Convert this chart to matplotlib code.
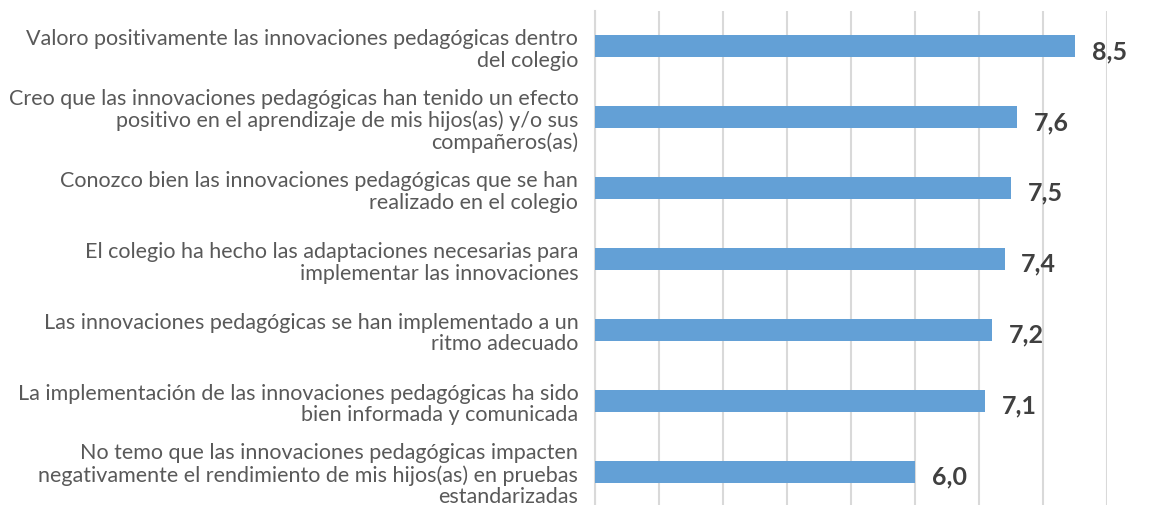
import matplotlib.pyplot as plt
import numpy as np

plt.rcParams['font.family'] = ['Lato', 'DejaVu Sans']

labels = [
    "Valoro positivamente las innovaciones pedagógicas dentro\ndel colegio",
    "Creo que las innovaciones pedagógicas han tenido un efecto\npositivo en el aprendizaje de mis hijos(as) y/o sus\ncompañeros(as)",
    "Conozco bien las innovaciones pedagógicas que se han\nrealizado en el colegio",
    "El colegio ha hecho las adaptaciones necesarias para\nimplementar las innovaciones",
    "Las innovaciones pedagógicas se han implementado a un\nritmo adecuado",
    "La implementación de las innovaciones pedagógicas ha sido\nbien informada y comunicada",
    "No temo que las innovaciones pedagógicas impacten\nnegativamente el rendimiento de mis hijos(as) en pruebas\nestandarizadas",
]
values = [8.5, 7.6, 7.5, 7.4, 7.2, 7.1, 6.0]

fig = plt.figure(figsize=(11.61, 5.06), dpi=100)
ax = fig.add_axes([595 / 1161, -2 / 506, (1107 - 595) / 1161, 496 / 506])

y = np.arange(len(values))
ax.barh(y, values, height=0.31, left=0, color='#63a0d6', zorder=3)
ax.set_xlim(1, 9)
ax.set_ylim(len(values) - 0.5, -0.5)
ax.set_xticks(np.arange(1, 10))
ax.xaxis.grid(True, color='#d9d9d9', linewidth=1.5, zorder=0)
ax.tick_params(axis='x', length=0, labelbottom=False)
ax.tick_params(axis='y', length=0, pad=12)
ax.set_yticks(y)
ax.set_yticklabels(labels, fontsize=15.5, color='#595959', linespacing=1.1)
for s in ['top', 'right', 'bottom']:
    ax.spines[s].set_visible(False)
ax.spines['left'].set_color('#d9d9d9')
ax.spines['left'].set_linewidth(1.5)

# value labels just past the end of each bar
for yi, v in zip(y, values):
    ax.annotate(f"{v:.1f}".replace('.', ','), (v, yi), xytext=(12, -3),
                textcoords='offset points', ha='left', va='center',
                fontsize=18, fontweight='bold', color='#404040')

fig.savefig('out.png', dpi=100)
